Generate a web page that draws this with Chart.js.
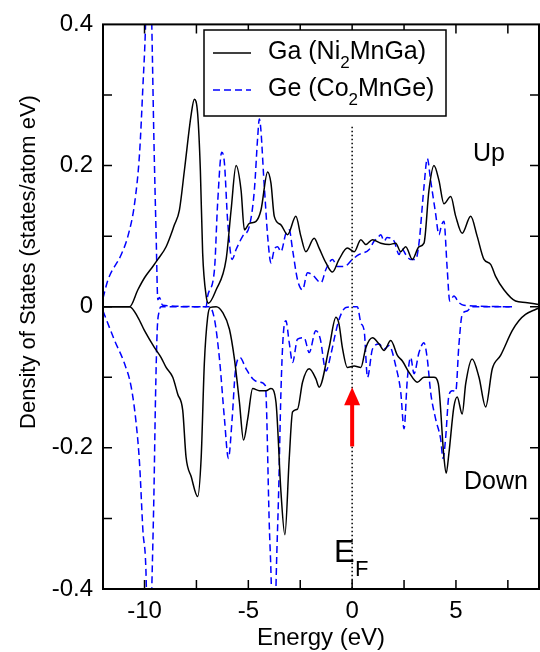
<!DOCTYPE html>
<html>
<head>
<meta charset="utf-8">
<script src="https://cdn.jsdelivr.net/npm/chart.js@4/dist/chart.umd.min.js"></script>
<style>
  html, body { margin: 0; padding: 0; background: #fff; }
  #wrap { width: 540px; height: 652px; }
</style>
</head>
<body>
<div id="wrap"><canvas id="dosChart" width="540" height="652"></canvas></div>
<script>
// Ga partial DOS in Ni2MnGa, spin up (states/atom eV)
const gaUpE = [-12, -10.72, -10.32, -10.0, -9.6, -9.36, -8.96, -8.56, -8.32, -8.08, -7.75, -7.6, -7.44, -7.31, -7.2, -7.03, -6.92,
  -6.55, -6.07, -5.83, -5.59, -5.35, -5.19, -4.95, -4.63, -4.39, -4.07, -3.91, -3.75, -3.43, -3.11, -2.71, -2.47, -2.23,
  -1.83, -1.59, -1.26, -0.95, -0.63, -0.23, 0.1, 0.42, 0.66, 0.98, 1.38, 1.78, 2.1, 2.34, 2.58, 2.9, 3.22, 3.46, 3.7, 3.94,
  4.18, 4.42, 4.75, 4.99, 5.3, 5.71, 6.02, 6.35, 6.67, 6.91, 7.31, 7.87, 8.35, 9];
const gaUp = [0, 0, 0.024, 0.041, 0.057, 0.067, 0.085, 0.116, 0.137, 0.193, 0.273, 0.294, 0.273, 0.193, 0.076, 0.015, 0.005,
  0.024, 0.067, 0.137, 0.2, 0.165, 0.109, 0.118, 0.121, 0.137, 0.191, 0.175, 0.128, 0.116, 0.102, 0.128, 0.1, 0.078,
  0.097, 0.083, 0.062, 0.049, 0.067, 0.083, 0.078, 0.095, 0.088, 0.095, 0.09, 0.088, 0.09, 0.078, 0.085, 0.067, 0.085, 0.09, 0.165, 0.2,
  0.179, 0.146, 0.156, 0.128, 0.104, 0.128, 0.1, 0.067, 0.06, 0.043, 0.024, 0.008, 0.006, 0.003];

// Ga, spin down (plotted negative)
const gaDownE = [-12, -10.72, -10.32, -10.0, -9.52, -9.2, -8.96, -8.64, -8.4, -8.16, -8.0, -7.75, -7.44, -7.27, -7.12, -6.96, -6.83,
  -6.55, -6.24, -5.91, -5.67, -5.43, -5.23, -5.03, -4.79, -4.47, -4.15, -3.91, -3.67, -3.43, -3.24, -3.03, -2.87, -2.63,
  -2.39, -2.07, -1.75, -1.59, -1.11, -0.78, -0.63, -0.47, -0.23, 0.1, 0.42, 0.66, 0.98, 1.3, 1.54, 1.86, 2.18, 2.42, 2.74,
  3.14, 3.46, 3.94, 4.15, 4.42, 4.53, 4.66, 4.9, 5.06, 5.3, 5.47, 5.78, 6.11, 6.43, 6.75, 7.15, 7.71, 8.03, 8.35, 8.83, 9];
const gaDown = [0, 0, -0.015, -0.034, -0.058, -0.072, -0.086, -0.1, -0.124, -0.147, -0.213, -0.241, -0.269, -0.213, -0.081, -0.015, -0.001,
  0, -0.008, -0.032, -0.074, -0.135, -0.189, -0.159, -0.116, -0.119, -0.119, -0.116, -0.135, -0.262, -0.323, -0.215, -0.149, -0.145,
  -0.107, -0.088, -0.102, -0.114, -0.058, -0.015, -0.025, -0.058, -0.086, -0.084, -0.086, -0.058, -0.044, -0.053, -0.062, -0.048, -0.069, -0.077, -0.093,
  -0.107, -0.1, -0.1, -0.109, -0.213, -0.236, -0.208, -0.142, -0.128, -0.152, -0.109, -0.074, -0.1, -0.142, -0.088, -0.069, -0.034, -0.02, -0.011, -0.004, -0.002];

// Ge partial DOS in Co2MnGe, spin up
const geUpE = [-12, -11.76, -11.12, -10.8, -10.48, -10.24, -10.08, -9.95, -9.8, -9.65, -9.55, -9.44, -9.36, -9.28, -9.13,
  -7.03, -6.96, -6.63, -6.48, -6.28, -6.15, -6.0, -5.78, -5.59, -5.27, -4.95, -4.71, -4.55, -4.47, -4.23, -4.07, -3.91,
  -3.75, -3.59, -3.43, -3.19, -3.03, -2.87, -2.63, -2.39, -2.15, -1.91, -1.5, -1.26, -0.95, -0.71, -0.38, 0.01, 0.34,
  0.82, 1.06, 1.22, 1.38, 1.54, 1.68, 2.02, 2.26, 2.4, 2.58, 2.82, 3.06, 3.22, 3.46, 3.62, 3.78, 4.02, 4.18, 4.31, 4.42,
  4.58, 4.7, 4.9, 5.14, 5.38, 7.7];
const geUp = [0.012, 0.038, 0.074, 0.1, 0.146, 0.217, 0.311, 0.4, 0.6, 0.4, 0.24, 0.1, 0.01, 0.013, 0.002,
  0, 0.015, 0.053, 0.146, 0.219, 0.203, 0.123, 0.067, 0.081, 0.1, 0.114, 0.165, 0.24, 0.266, 0.17, 0.1, 0.062,
  0.081, 0.085, 0.078, 0.104, 0.109, 0.081, 0.038, 0.024, 0.048, 0.045, 0.034, 0.053, 0.067, 0.057, 0.057, 0.067, 0.074,
  0.081, 0.093, 0.097, 0.102, 0.093, 0.098, 0.093, 0.074, 0.082, 0.074, 0.067, 0.067, 0.09, 0.17, 0.21, 0.179, 0.132, 0.102, 0.116, 0.121,
  0.053, 0.008, 0.015, 0.006, 0.002, 0];

// Ge, spin down (plotted negative)
const geDownE = [-12, -11.44, -10.96, -10.64, -10.4, -10.24, -10.08, -9.92, -9.8, -9.65, -9.55, -9.47, -9.39, -9.29, -9.2,
  -6.88, -6.63, -6.39, -6.15, -5.96, -5.78, -5.63, -5.4, -5.11, -4.79, -4.47, -4.18, -3.99, -3.89, -3.78, -3.67, -3.54,
  -3.43, -3.32, -3.19, -3.03, -2.87, -2.63, -2.31, -2.07, -1.75, -1.54, -1.26, -1.02, -0.82, -0.63, -0.3, 0.25, 0.42,
  0.58, 0.74, 0.98, 1.3, 1.54, 1.78, 2.1, 2.34, 2.5, 2.66, 2.82, 2.98, 3.22, 3.46, 3.62, 3.78, 4.02, 4.26, 4.38, 4.5,
  4.66, 4.82, 4.99, 5.14, 5.3, 5.54, 5.78, 7.7];
const geDown = [-0.006, -0.048, -0.081, -0.114, -0.166, -0.222, -0.316, -0.386, -0.6, -0.4, -0.269, -0.128, -0.034, -0.006, 0,
  0, -0.018, -0.074, -0.159, -0.215, -0.159, -0.093, -0.072, -0.088, -0.102, -0.107, -0.112, -0.31, -0.4, -0.6, -0.4, -0.262,
  -0.121, -0.041, -0.02, -0.051, -0.079, -0.046, -0.044, -0.065, -0.034, -0.045, -0.091, -0.067, -0.04, -0.018, -0.001, 0, -0.023,
  -0.034, -0.1, -0.06, -0.053, -0.06, -0.055, -0.084, -0.121, -0.173, -0.102, -0.072, -0.095, -0.065, -0.051, -0.074, -0.121, -0.159, -0.187, -0.215, -0.187,
  -0.126, -0.119, -0.12, -0.055, -0.011, -0.006, 0, 0];

// axis ticks: labelled values and the finer marks drawn inside the frame
const xTickLabels = [-10, -5, 0, 5];
const yTickLabels = [-0.4, -0.2, 0, 0.2, 0.4];
const xMinorTicks = [-10, -7.5, -5, -2.5, 0, 2.5, 5, 7.5];
const yMinorTicks = [-0.3, -0.2, -0.1, 0, 0.1, 0.2, 0.3];

const FONT = "'Liberation Sans', Arial, Helvetica, sans-serif";

function toPoints(xs, ys) {
  return xs.map((x, i) => ({ x: x, y: ys[i] }));
}

// frame, inward ticks, Fermi level marker and annotations
const decorations = {
  id: "decorations",
  beforeDatasetsDraw(chart) {
    const { ctx, scales: { x, y } } = chart;
    const x0 = x.getPixelForValue(0);
    ctx.save();
    ctx.strokeStyle = "#000";
    ctx.lineWidth = 1.5;
    ctx.setLineDash([1.5, 2.5]);
    ctx.beginPath();
    ctx.moveTo(x0, y.getPixelForValue(0.255));
    ctx.lineTo(x0, y.getPixelForValue(-0.4));
    ctx.stroke();
    ctx.restore();
  },
  afterDatasetsDraw(chart) {
    const { ctx, chartArea: a, scales: { x, y } } = chart;
    ctx.save();

    // plot frame
    ctx.strokeStyle = "#000";
    ctx.lineWidth = 2;
    ctx.strokeRect(a.left, a.top, a.right - a.left, a.bottom - a.top);

    // ticks pointing into the plot on all four sides
    const len = 9;
    ctx.lineWidth = 1.5;
    ctx.beginPath();
    xMinorTicks.forEach((v) => {
      const px = x.getPixelForValue(v);
      ctx.moveTo(px, a.bottom); ctx.lineTo(px, a.bottom - len);
      ctx.moveTo(px, a.top); ctx.lineTo(px, a.top + len);
    });
    yMinorTicks.forEach((v) => {
      const py = y.getPixelForValue(v);
      ctx.moveTo(a.left, py); ctx.lineTo(a.left + len, py);
      ctx.moveTo(a.right, py); ctx.lineTo(a.right - len, py);
    });
    ctx.stroke();

    // red arrow at the Fermi level
    const ax = x.getPixelForValue(0);
    const tail = y.getPixelForValue(-0.198);
    const tip = y.getPixelForValue(-0.114);
    ctx.strokeStyle = "#ff0000";
    ctx.fillStyle = "#ff0000";
    ctx.lineWidth = 4;
    ctx.beginPath();
    ctx.moveTo(ax, tail);
    ctx.lineTo(ax, tip + 14);
    ctx.stroke();
    ctx.beginPath();
    ctx.moveTo(ax, tip);
    ctx.lineTo(ax - 8, tip + 18);
    ctx.lineTo(ax + 8, tip + 18);
    ctx.closePath();
    ctx.fill();

    // text labels
    ctx.fillStyle = "#000";
    ctx.textBaseline = "alphabetic";
    ctx.textAlign = "left";
    ctx.font = "25px " + FONT;
    ctx.fillText("Up", 473, 161);
    ctx.fillText("Down", 464, 489);
    ctx.font = "31px " + FONT;
    ctx.fillText("E", 334, 562);
    ctx.font = "22px " + FONT;
    ctx.fillText("F", 355, 576);

    // y axis title
    ctx.save();
    ctx.translate(35, 262);
    ctx.rotate(-Math.PI / 2);
    ctx.textAlign = "center";
    ctx.font = "22px " + FONT;
    ctx.fillText("Density of States (states/atom eV)", 0, 0);
    ctx.restore();

    // legend box
    ctx.fillStyle = "#fff";
    ctx.fillRect(204, 30, 242, 86);
    ctx.strokeStyle = "#000";
    ctx.lineWidth = 1.5;
    ctx.strokeRect(204, 30, 242, 86);

    const entries = [
      { pre: "Ga (Ni", post: "MnGa)", color: "#000", dash: [], ly: 53, base: 59 },
      { pre: "Ge (Co", post: "MnGe)", color: "#0000ff", dash: [7, 4], ly: 90, base: 96 },
    ];
    entries.forEach((e) => {
      ctx.strokeStyle = e.color;
      ctx.lineWidth = 1.5;
      ctx.setLineDash(e.dash);
      ctx.beginPath();
      ctx.moveTo(213, e.ly);
      ctx.lineTo(251, e.ly);
      ctx.stroke();
      ctx.setLineDash([]);
      ctx.fillStyle = "#000";
      ctx.font = "25px " + FONT;
      let tx = 268;
      ctx.fillText(e.pre, tx, e.base);
      tx += ctx.measureText(e.pre).width;
      ctx.font = "17px " + FONT;
      ctx.fillText("2", tx, e.base + 9);
      tx += ctx.measureText("2").width;
      ctx.font = "25px " + FONT;
      ctx.fillText(e.post, tx, e.base);
    });

    ctx.restore();
  },
};

const chart = new Chart(document.getElementById("dosChart"), {
  type: "line",
  data: {
    datasets: [
      {
        label: "Ga (Ni2MnGa) up",
        data: toPoints(gaUpE, gaUp),
        borderColor: "#000",
        borderWidth: 1.5,
      },
      {
        label: "Ga (Ni2MnGa) down",
        data: toPoints(gaDownE, gaDown),
        borderColor: "#000",
        borderWidth: 1.5,
      },
      {
        label: "Ge (Co2MnGe) up",
        data: toPoints(geUpE, geUp),
        borderColor: "#0000ff",
        borderWidth: 1.5,
        borderDash: [7, 4],
      },
      {
        label: "Ge (Co2MnGe) down",
        data: toPoints(geDownE, geDown),
        borderColor: "#0000ff",
        borderWidth: 1.5,
        borderDash: [7, 4],
      },
    ],
  },
  options: {
    responsive: false,
    animation: false,
    events: [],
    layout: { padding: { top: 19, right: 1, left: 0, bottom: 0 } },
    elements: {
      point: { radius: 0 },
      line: { cubicInterpolationMode: "monotone", fill: false },
    },
    plugins: {
      legend: { display: false },
      tooltip: { enabled: false },
    },
    scales: {
      x: {
        type: "linear",
        min: -12,
        max: 9,
        afterBuildTicks: (scale) => {
          scale.ticks = xTickLabels.map((v) => ({ value: v }));
        },
        afterFit: (scale) => {
          scale.height = 63;
        },
        ticks: {
          color: "#000",
          padding: 8,
          maxRotation: 0,
          font: { family: FONT, size: 24 },
          callback: (v) => String(v),
        },
        grid: { display: false, drawTicks: false },
        border: { display: false },
        title: {
          display: true,
          text: "Energy (eV)",
          color: "#000",
          font: { family: FONT, size: 24 },
          padding: { top: 0, bottom: -1 },
        },
      },
      y: {
        type: "linear",
        min: -0.4,
        max: 0.4,
        afterBuildTicks: (scale) => {
          scale.ticks = yTickLabels.map((v) => ({ value: v }));
        },
        afterFit: (scale) => {
          scale.width = 103;
        },
        ticks: {
          color: "#000",
          padding: 10,
          font: { family: FONT, size: 24 },
          callback: (v) => String(Number(v.toFixed(1))),
        },
        grid: { display: false, drawTicks: false },
        border: { display: false },
      },
    },
  },
  plugins: [decorations],
});
</script>
</body>
</html>
